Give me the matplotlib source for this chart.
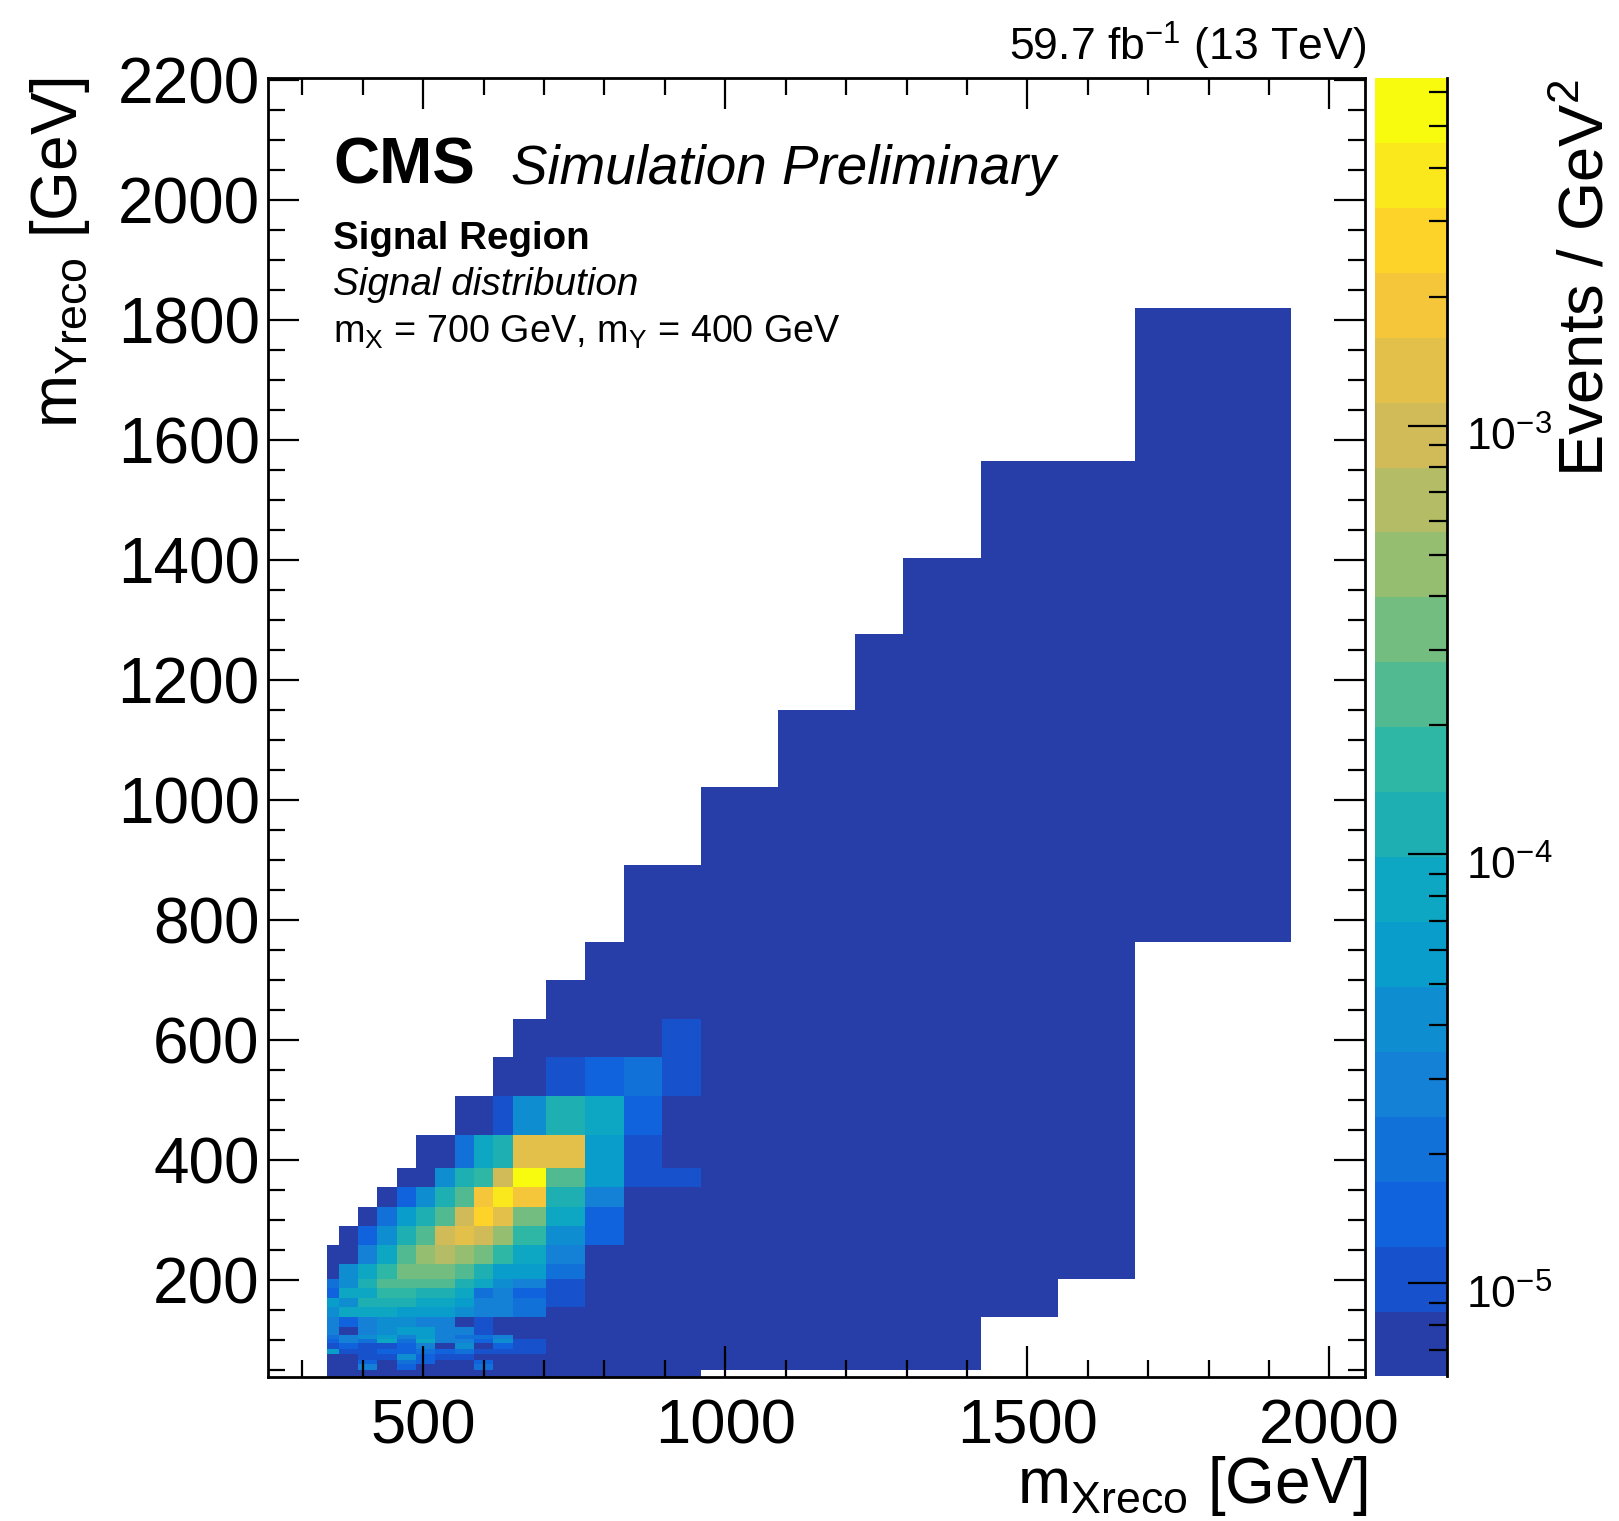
import numpy as np
import matplotlib
matplotlib.use("Agg")
import matplotlib.pyplot as plt
from matplotlib.colors import ListedColormap, BoundaryNorm
from matplotlib.ticker import MultipleLocator, LogLocator, FixedLocator, NullFormatter
from matplotlib.transforms import ScaledTranslation

plt.rcParams['font.family'] = ['Liberation Sans', 'DejaVu Sans']
plt.rcParams['mathtext.fontset'] = 'custom'
plt.rcParams['mathtext.rm'] = 'Liberation Sans'
plt.rcParams['mathtext.it'] = 'Liberation Sans:italic'
plt.rcParams['mathtext.bf'] = 'Liberation Sans:bold'

# bin edges in GeV (variable binning)
x_edges = [340, 360, 392, 424, 456, 488, 520, 552, 584, 616, 648, 704, 768, 832,
           896, 960, 1024, 1088, 1214, 1294, 1423, 1551, 1678, 1936]
y_edges = [40, 50, 60, 68, 77, 85, 95, 102, 109, 123, 139, 155, 171, 187, 203,
           227, 259, 291, 323, 355, 388, 443, 507, 572, 636, 700, 764, 892, 1022,
           1150, 1277, 1404, 1565, 1820]

# colour level read for each bin: one string per mY row (bottom -> top),
# one char per mX column. '.' = empty bin, 0-9 then a-j = level 0..19
bin_levels = [
    "000000000000000........",
    "00402000300000000000...",
    "00203200200000000000...",
    "00115211000000000000...",
    "61122323111000000000...",
    "12112405021000000000...",
    "24373744251000000000...",
    "34564643340000000000...",
    "40456644100000000000...",
    "42455440100000000000...",
    "577766654430000000000..",
    "658887764431000000000..",
    "277998873421000000000..",
    "358aaaa87541000000000..",
    "0579bbba86630000000000.",
    "0047acdcb9740000000000.",
    ".0258aefec952000000000.",
    "..0368aehfb72000000000.",
    "...0258agig84000000000.",
    "....00589eja6110000000.",
    ".....00378ff6100000000.",
    ".......001587200000000.",
    ".........0012310000000.",
    "..........000010000000.",
    "...........00000000000.",
    "............0000000000.",
    ".............0000000000",
    "...............00000000",
    ".................000000",
    "..................00000",
    "...................0000",
    "....................000",
    "......................0",
]

# z axis (Events / GeV^2), log scale, 20 contour levels
z_min, z_max = 6.06e-6, 6.47e-3
n_levels = 20
cbar_major = [1e-5, 1e-4, 1e-3]
cbar_labels = [r'$\mathregular{10^{-5}}$', r'$\mathregular{10^{-4}}$', r'$\mathregular{10^{-3}}$']

# ROOT kBird palette
bird_r = [0.2082, 0.0592, 0.0780, 0.0232, 0.1802, 0.5301, 0.8186, 0.9956, 0.9764]
bird_g = [0.1664, 0.3599, 0.5041, 0.6419, 0.7178, 0.7492, 0.7328, 0.7862, 0.9832]
bird_b = [0.5293, 0.8684, 0.8385, 0.7914, 0.6425, 0.4662, 0.3499, 0.1968, 0.0539]

stops = np.linspace(0, 1, 9)
pos = np.array([int((i + 0.99) * 255 / n_levels) for i in range(n_levels)]) / 254.0
colors = np.column_stack([np.interp(pos, stops, bird_r),
                          np.interp(pos, stops, bird_g),
                          np.interp(pos, stops, bird_b)])
cmap = ListedColormap(colors)
bounds = np.logspace(np.log10(z_min), np.log10(z_max), n_levels + 1)
centres = np.sqrt(bounds[:-1] * bounds[1:])
norm = BoundaryNorm(bounds, n_levels)

z = np.full((len(y_edges) - 1, len(x_edges) - 1), np.nan)
for i, row in enumerate(bin_levels):
    for j, ch in enumerate(row):
        if ch != '.':
            z[i, j] = centres[int(ch, 36)]
z = np.ma.masked_invalid(z)

W, H = 1619, 1521
fig = plt.figure(figsize=(W / 100, H / 100), dpi=100)


def fx(px):
    return px / W


def fy(py):
    return 1 - py / H


ax_l, ax_r, ax_t, ax_b = 268, 1365, 78, 1376.5
ax = fig.add_axes([fx(ax_l), fy(ax_b), fx(ax_r - ax_l), (ax_b - ax_t) / H])
ax.pcolormesh(x_edges, y_edges, z, cmap=cmap, norm=norm, shading='flat',
              antialiased=False, edgecolors='none', linewidth=0)
ax.set_xlim(243, 2059)
ax.set_ylim(40, 2204)

ax.xaxis.set_major_locator(MultipleLocator(500))
ax.xaxis.set_minor_locator(MultipleLocator(100))
ax.yaxis.set_major_locator(MultipleLocator(200))
ax.yaxis.set_minor_locator(MultipleLocator(50))
ax.tick_params(which='both', direction='in', top=True, right=True, width=1.6)
ax.tick_params(which='major', length=22)
ax.tick_params(which='minor', length=12)
ax.tick_params(axis='x', which='major', labelsize=45.5, pad=15)
ax.tick_params(axis='y', which='major', labelsize=46, pad=6)
for s in ax.spines.values():
    s.set_linewidth(2)

# colour bar
cb_l, cb_r = 1375, 1447
cax = fig.add_axes([fx(cb_l), fy(ax_b), fx(cb_r - cb_l), (ax_b - ax_t) / H])
cax.pcolormesh([0, 1], bounds, centres[:, None], cmap=cmap, norm=norm,
               antialiased=False, edgecolors='none', linewidth=0)
cax.set_yscale('log')
cax.set_ylim(z_min, z_max)
cax.set_xlim(0, 1)
cax.set_xticks([])
for side in ['left', 'top', 'bottom']:
    cax.spines[side].set_visible(False)
cax.spines['right'].set_linewidth(2)
cax.yaxis.tick_right()
cax.yaxis.set_major_locator(FixedLocator(cbar_major))
cax.set_yticklabels(cbar_labels)
cax.yaxis.set_minor_locator(LogLocator(base=10, subs=np.arange(2, 10)))
cax.yaxis.set_minor_formatter(NullFormatter())
cax.tick_params(which='both', direction='in', width=1.6, left=False, right=True)
cax.tick_params(which='major', length=28, labelsize=32, pad=14)
cax.tick_params(which='minor', length=13)
for lbl in cax.get_yticklabels():
    lbl.set_transform(lbl.get_transform() + ScaledTranslation(0, -6 / 72, fig.dpi_scale_trans))

# axis titles
fig.text(fx(1368), fy(1503), r'm$_{\mathregular{Xreco}}$ [GeV]', fontsize=46,
         ha='right', va='baseline')
fig.text(fx(77), fy(77), r'm$_{\mathregular{Yreco}}$ [GeV]', fontsize=46,
         rotation=90, rotation_mode='anchor', ha='right', va='baseline')
fig.text(fx(1603), fy(79), r'Events / GeV$^{\mathregular{2}}$', fontsize=45.5,
         rotation=90, rotation_mode='anchor', ha='right', va='baseline')

# CMS labels
fig.text(fx(333), fy(184), 'CMS', fontsize=46, fontweight='bold', va='baseline')
fig.text(fx(511), fy(184), 'Simulation Preliminary', fontsize=39.4, style='italic',
         va='baseline')
fig.text(fx(333), fy(249), 'Signal Region', fontsize=27.7, fontweight='bold',
         va='baseline')
fig.text(fx(333), fy(295), 'Signal distribution', fontsize=27.8, style='italic',
         va='baseline')
fig.text(fx(333), fy(343), r'm$_{\mathregular{X}}$ = 700 GeV, m$_{\mathregular{Y}}$ = 400 GeV',
         fontsize=27.2, va='baseline')
fig.text(fx(1366), fy(61), r'59.7 fb$^{\mathregular{-1}}$ (13 TeV)', fontsize=32,
         ha='right', va='baseline')

fig.savefig('out.png', dpi=100)
